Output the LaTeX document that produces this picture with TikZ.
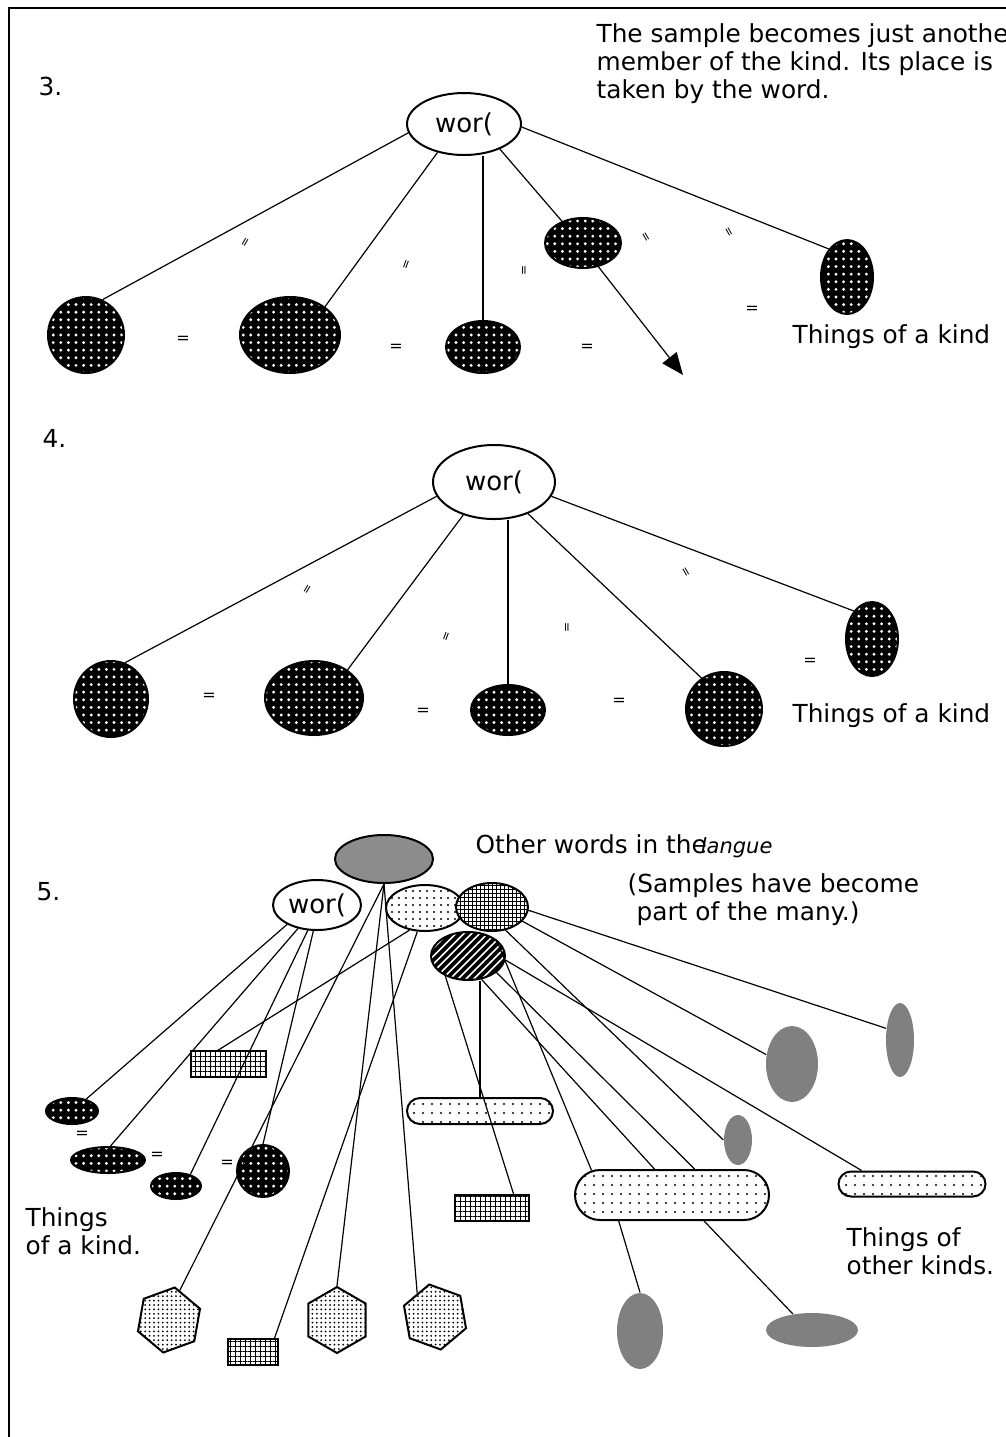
\documentclass[tikz,border=0pt]{standalone}
\usepackage{fontspec}
\setmainfont{DejaVu Sans}
\usetikzlibrary{shapes.geometric,shapes.misc,patterns.meta,arrows.meta}
\begin{document}
\begin{tikzpicture}[
	x=0.5pt, y=-0.5pt,
	line width=0.6pt,
	dims/.style 2 args={minimum width=#1pt, minimum height=#2pt},
	edged/.style={draw, line width=1pt, inner sep=+0pt},
	thing/.style={ellipse, edged, preaction={fill=black},
		pattern={Dots[distance=3.8pt, radius=0.8pt]}, pattern color=white},
	wordnode/.style={ellipse, edged, fill=white, font=\fontsize{13}{13}\selectfont},
	greytop/.style={ellipse, edged, fill=black!45},
	dotty/.style={ellipse, edged, preaction={fill=white},
		pattern={Dots[distance=3.5pt, radius=0.55pt]}},
	griddy/.style={ellipse, edged, preaction={fill=white},
		pattern={Hatch[angle=0, distance=2pt, line width=0.45pt]}},
	striped/.style={ellipse, edged, preaction={fill=black},
		pattern={Lines[angle=45, distance=2.8pt, line width=0.8pt]}, pattern color=white},
	gridbox/.style={rectangle, edged, preaction={fill=white},
		pattern={Hatch[angle=0, distance=2.5pt, line width=0.5pt]}},
	hexa/.style={regular polygon, regular polygon sides=6, minimum size=33pt, edged,
		preaction={fill=white}, pattern={Dots[distance=2.2pt, radius=0.5pt]}},
	stadium/.style={rounded rectangle, edged, preaction={fill=white},
		pattern={Dots[distance=4.5pt, radius=0.6pt]}},
	blob/.style={ellipse, fill=black!50, inner sep=+0pt},
	txt/.style={anchor=base west, inner sep=+0pt, font=\fontsize{12.4}{14}\selectfont},
	para/.style={anchor=north west, align=left, inner sep=+0pt, font=\fontsize{12.4}{14}\selectfont},
	eqsign/.style={inner sep=+0pt, font=\fontsize{8}{8}\selectfont},
	tickmark/.style={inner sep=+0pt, font=\fontsize{6}{6}\selectfont}
]
\useasboundingbox (0,0) rectangle (1006,1437);
\draw[line width=1pt] (9,1437) -- (9,8) -- (1006,8);

\node[txt] (N3) at (38,95) {3.};
\node[para] (C3) at (596,23) {The sample becomes just anothe\\member of the kind. Its place is\\taken by the word.};
\node[thing, dims={38}{38}] (K31) at (86,335) {};
\node[thing, dims={50}{38}] (K32) at (290,335) {};
\node[thing, dims={37}{26}] (K33) at (483,347) {};
\node[thing, dims={38}{25}] (S3) at (583,243) {};
\node[thing, dims={26}{37}] (K34) at (847,277) {};
\node[wordnode, dims={57}{31}] (W3) at (464,124) {wor(};
\coordinate (P3) at (683,375);
\draw (W3.189) -- (K31.65);
\draw (W3.227) -- (K32.39);
\draw (K33.north) -- (K33.north |- W3.south);
\draw (W3.325) -- (S3.134);
\draw (W3.357) -- (K34.123);
\draw[-{Triangle[length=11pt, width=9pt]}] (S3.303) -- (P3);
\node[eqsign] (e31) at (183,340) {=};
\node[eqsign] (e32) at (396,348) {=};
\node[eqsign] (e33) at (587,348) {=};
\node[eqsign] (e34) at (752,310) {=};
\node[tickmark, rotate=60] (t31) at (246,243) {=};
\node[tickmark, rotate=70] (t32) at (407,265) {=};
\node[tickmark, rotate=90] (t33) at (525,270) {=};
\node[tickmark, rotate=-60] (t34) at (645,237) {=};
\node[tickmark, rotate=-60] (t35) at (728,232) {=};
\node[txt] (L3) at (792,343) {Things of a kind};

\node[txt] (N4) at (42,447) {4.};
\node[thing, dims={37}{38}] (K41) at (111,699) {};
\node[thing, dims={49}{37}] (K42) at (314,698) {};
\node[thing, dims={37}{25}] (K43) at (508,710) {};
\node[thing, dims={38}{37}] (K44) at (724,709) {};
\node[thing, dims={26}{37}] (K45) at (872,639) {};
\node[wordnode, dims={61}{37}] (W4) at (494,482) {wor(};
\draw (W4.194) -- (K41.69);
\draw (W4.227) -- (K42.40);
\draw (K43.north) -- (K43.north |- W4.south);
\draw (W4.317) -- (K44.126);
\draw (W4.346) -- (K45.123);
\node[eqsign] (e41) at (209,697) {=};
\node[eqsign] (e42) at (423,712) {=};
\node[eqsign] (e43) at (619,702) {=};
\node[eqsign] (e44) at (810,662) {=};
\node[tickmark, rotate=60] (t41) at (308,590) {=};
\node[tickmark, rotate=70] (t42) at (447,637) {=};
\node[tickmark, rotate=90] (t43) at (568,627) {=};
\node[tickmark, rotate=-60] (t44) at (685,572) {=};
\node[txt] (L4) at (792,722) {Things of a kind};

\node[txt] (N5) at (36,900) {5.};
\node[txt] (OW) at (475,853) {Other words in the\kern-3pt{\itshape\fontsize{10.5}{12}\selectfont langue}};
\node[para] (SM) at (627,873) {(Samples have become\\\hspace*{4.5pt}part of the many.)};
\node[greytop, dims={49}{24}] (GR) at (384,859) {};
\node[wordnode, dims={44}{25}] (W5) at (317,905) {wor(};
\node[dotty, dims={39}{23}] (DT) at (425,908) {};
\node[griddy, dims={36}{24}] (GD) at (492,907) {};
\node[striped, dims={37}{24}] (HT) at (468,956) {};
\node[thing, dims={26}{13}] (K51) at (72,1111) {};
\node[thing, dims={37}{13}] (K52) at (108,1160) {};
\node[thing, dims={25}{13}] (K53) at (176,1186) {};
\node[thing, dims={26}{26}] (K54) at (263,1171) {};
\node[eqsign] (e51) at (82,1135) {=};
\node[eqsign] (e52) at (157,1156) {=};
\node[eqsign] (e53) at (227,1164) {=};
\node[para] (L5) at (25,1207) {Things\\of a kind.};
\node[gridbox, dims={37.5}{13}] (B1) at (228.5,1064) {};
\node[gridbox, dims={37}{13}] (B2) at (492,1208) {};
\node[gridbox, dims={25}{13}] (B3) at (253,1352) {};
\node[hexa, shape border rotate=80] (H1) at (169,1320) {};
\node[hexa, shape border rotate=90] (H2) at (337,1320) {};
\node[hexa, shape border rotate=100] (H3) at (435,1317) {};
\node[stadium, dims={73}{13}] (D1) at (480,1111) {};
\node[stadium, dims={97}{25}] (D2) at (672,1195) {};
\node[stadium, dims={73.5}{12.5}] (D3) at (912,1184) {};
\node[blob, dims={26}{38}] (G1) at (792,1064) {};
\node[blob, dims={14}{37}] (G2) at (900,1040) {};
\node[blob, dims={14}{25}] (G3) at (738,1140) {};
\node[blob, dims={23}{38}] (G4) at (640,1331) {};
\node[blob, dims={46}{17}] (G5) at (812,1330) {};
\node[para] (L6) at (846,1227) {Things of\\other kinds.};
\draw (W5.213) -- (K51.40);
\draw (W5.231) -- (K52.80);
\draw (W5.250) -- (K53.39);
\draw (W5.262) -- (K54.north);
\draw (DT.235) -- (B1.129);
\draw (DT.252) -- (B3.33);
\draw (GR.south) -- (H1.70);
\draw (GR.south) -- (H2.north);
\draw (GR.south) -- (H3.127);
\draw (GD.355) -- (G2.140);
\draw (GD.335) -- (G1.160);
\draw (GD.300) -- (G3.west);
\draw (HT.354) -- (D3.165);
\draw (HT.30) -- (D2.163);
\draw (HT.300) -- (D2.124);
\draw (HT.330) -- (D2.49);
\draw (D1.north) -- (D1.north |- HT.south);
\draw (HT.221) -- (B2.33);
\draw (D2.206) -- (G4.north);
\draw (D2.321) -- (G5.140);
\end{tikzpicture}
\end{document}
